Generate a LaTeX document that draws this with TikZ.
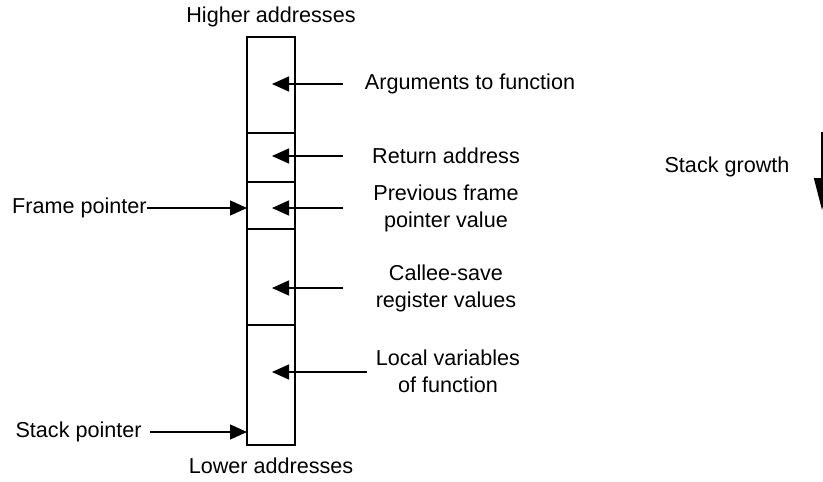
\documentclass[tikz,border=0pt]{standalone}
\usepackage{fontspec}
\setmainfont{Liberation Sans}
\usetikzlibrary{arrows.meta,positioning}

\tikzset{
    cell/.style={draw,line width=0.8pt,minimum width=24pt,inner sep=0pt,anchor=north},
    lbl/.style={font=\fontsize{10.8}{13.5}\selectfont,align=center,inner sep=0pt},
    ptr/.style={-{Triangle[length=8.5pt,width=7.5pt]},line width=0.7pt},
}

\begin{document}
\begin{tikzpicture}[x=0.5pt,y=-0.5pt]
    \useasboundingbox (0,0) rectangle (823,481);

    % the frame
    \node[cell,minimum height=48pt]   (args)   at (271,36)  {};
    \node[cell,minimum height=24.5pt] (ret)    at (271,132) {};
    \node[cell,minimum height=23.5pt] (prev)   at (271,181) {};
    \node[cell,minimum height=48pt]   (callee) at (271,228) {};
    \node[cell,minimum height=60pt]   (local)  at (271,324) {};

    \node[lbl] (hi) at (271,17)  {Higher addresses};
    \node[lbl] (lo) at (271,466) {Lower addresses};

    % labels on the right
    \node[lbl] (argstext)   at (470,84)    {Arguments to function};
    \node[lbl] (rettext)    at (446,156)   {Return address};
    \node[lbl] (prevtext)   at (446,208.5) {Previous frame\\pointer value};
    \node[lbl] (calleetext) at (446,288)   {Callee-save\\register values};
    \node[lbl] (localtext)  at (448,371)   {Local variables\\of function};

    \coordinate (argsfrom)   at (343,84);
    \coordinate (retfrom)    at (343,156);
    \coordinate (prevfrom)   at (343,208);
    \coordinate (calleefrom) at (343,288);
    \coordinate (localfrom)  at (367,372);
    \coordinate (argsto)   at (272,84);
    \coordinate (retto)    at (272,156);
    \coordinate (prevto)   at (272,208);
    \coordinate (calleeto) at (272,288);
    \coordinate (localto)  at (272,372);

    \draw[ptr] (argsfrom) -- (argsto);
    \draw[ptr] (retfrom) -- (retto);
    \draw[ptr] (prevfrom) -- (prevto);
    \draw[ptr] (calleefrom) -- (calleeto);
    \draw[ptr] (localfrom) -- (localto);

    % pointers on the left
    \node[lbl,anchor=east] (fp) at (147,208) {Frame pointer};
    \node[lbl,anchor=east] (sp) at (142,432) {Stack pointer};
    \coordinate (fpto) at (247,208);
    \coordinate (spfrom) at (150,432);
    \coordinate (spto) at (247,432);
    \draw[ptr] (fp.east) -- (fpto);
    \draw[ptr] (spfrom) -- (spto);

    % growth
    \node[lbl] (growth) at (727,167) {Stack growth};
    \coordinate (growtop) at (822,132);
    \coordinate (growtip) at (822,210);
    \draw[-{Triangle[length=16pt,width=8pt]},line width=0.8pt] (growtop) -- (growtip);
\end{tikzpicture}
\end{document}
